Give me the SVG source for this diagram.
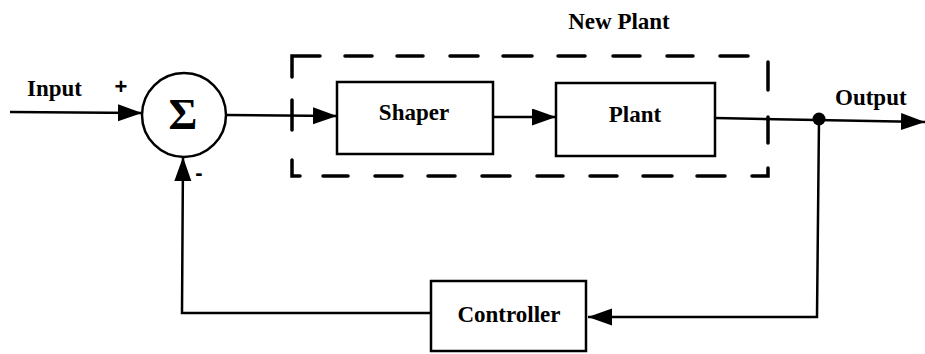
<svg xmlns="http://www.w3.org/2000/svg" width="925" height="354" viewBox="0 0 925 354">
<style>
  .box { fill: #fff; stroke: #000; stroke-width: 2.5; }
  .line { fill: none; stroke: #000; stroke-width: 2.5; }
  .dash { fill: none; stroke: #000; stroke-width: 3.5; stroke-linecap: round; }
  .lbl { font-family: "Liberation Serif", "Times New Roman", serif; font-weight: bold; font-size: 23px; fill: #000; }
  .sign { font-family: "Liberation Sans", Arial, sans-serif; font-weight: bold; font-size: 22px; fill: #000; }
</style>
<defs>
  <marker id="arr" markerUnits="userSpaceOnUse" markerWidth="24" markerHeight="18" refX="24" refY="8.5" orient="auto">
    <path d="M0,0 L24,8.5 L0,17 z" fill="#000"/>
  </marker>
</defs>
<rect width="925" height="354" fill="#fff"/>

<g id="newplant-boundary">
  <path class="dash" d="M292,77 V56 H320 M345,56 H372 M397,56 H423 M450,56 H478 M503,56 H532 M558,56 H585 M613,56 H640 M667,56 H693 M720,56 H748"/>
  <path class="dash" d="M292,100 V130 M292,160 V176 H300 M323,176 H348 M375,176 H402 M428,176 H455 M482,176 H510 M537,176 H563 M590,176 H617 M643,176 H672 M697,176 H725 M752,176 H768 V168"/>
  <path class="dash" d="M768,62 V90 M768,117 V143"/>
  <text class="lbl" x="619" y="29" text-anchor="middle">New Plant</text>
</g>

<g id="connectors">
  <line class="line" x1="10" y1="112" x2="142" y2="113" marker-end="url(#arr)"/>
  <line class="line" x1="226" y1="115" x2="337" y2="116" marker-end="url(#arr)"/>
  <line class="line" x1="493" y1="117" x2="556" y2="117" marker-end="url(#arr)"/>
  <line class="line" x1="715" y1="118" x2="925" y2="122" marker-end="url(#arr)"/>
  <polyline class="line" points="819,119 817,317 588,317" marker-end="url(#arr)"/>
  <polyline class="line" points="431,313 182,313 183,157" marker-end="url(#arr)"/>
  <circle cx="819" cy="119" r="6.5" fill="#000"/>
</g>

<g id="sum">
  <circle cx="184" cy="115" r="42" fill="#fff" stroke="#000" stroke-width="2.5"/>
  <text x="183" y="129" text-anchor="middle" font-family="'Liberation Serif', 'Times New Roman', serif" font-weight="bold" font-size="44">Σ</text>
  <text class="sign" x="121" y="94" text-anchor="middle">+</text>
  <text class="sign" x="199" y="180" text-anchor="middle">-</text>
</g>

<g id="input-label">
  <text class="lbl" x="27" y="96">Input</text>
</g>

<g id="shaper">
  <rect class="box" x="337" y="82" width="156" height="72"/>
  <text class="lbl" x="414" y="120" text-anchor="middle">Shaper</text>
</g>

<g id="plant">
  <rect class="box" x="556" y="83" width="159" height="73"/>
  <text class="lbl" x="635" y="122" text-anchor="middle">Plant</text>
</g>

<g id="output-label">
  <text class="lbl" x="835" y="105">Output</text>
</g>

<g id="controller">
  <rect class="box" x="431" y="281" width="155" height="70"/>
  <text class="lbl" x="509" y="322" text-anchor="middle">Controller</text>
</g>
</svg>
